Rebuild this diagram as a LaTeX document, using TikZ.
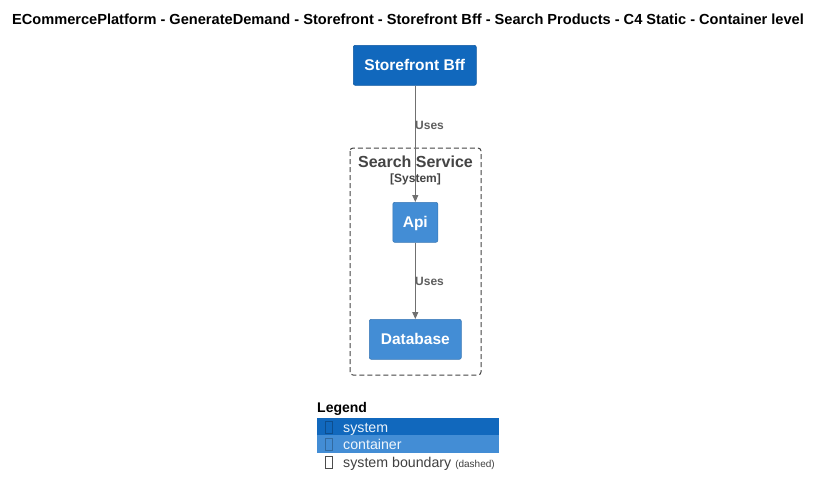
\documentclass[tikz,border=0pt]{standalone}
\usepackage{fontspec}
\setmainfont{Liberation Sans}
\usetikzlibrary{arrows.meta}
\definecolor{sysblue}{HTML}{1168BD}
\definecolor{contblue}{HTML}{438DD5}
\definecolor{linegray}{HTML}{707070}
\definecolor{bndgray}{HTML}{444444}
\begin{document}
\begin{tikzpicture}[x=1pt,y=-1pt,
  box/.style={draw=#1!85!black, line width=0.6pt, fill=#1, rounded corners=2pt, text=white, font=\fontsize{15.5}{18}\selectfont\bfseries, inner sep=0pt, text height=11pt, text depth=0pt, anchor=north west},
  rel/.style={draw=linegray, line width=1pt, -{Triangle[length=7pt,width=6pt]}},
  rlabel/.style={text=linegray!85!black, font=\fontsize{12}{14}\selectfont\bfseries, anchor=west, inner sep=0pt},
  legtext/.style={font=\fontsize{14.2}{16}\selectfont, anchor=base west, inner sep=0pt},
  tofu/.style={draw=#1, line width=0.7pt, minimum width=7pt, minimum height=12pt, inner sep=0pt}
]
\useasboundingbox (0,0) rectangle (823,496);
\fill[white] (0,0) rectangle (823,496);
% title
\node[font=\fontsize{14.6}{17}\selectfont\bfseries, inner sep=0pt] (title) at (408,19) {ECommercePlatform - GenerateDemand - Storefront - Storefront Bff - Search Products - C4 Static - Container level};
% boundary
\draw[bndgray, dash pattern=on 5pt off 3pt, line width=1pt, rounded corners=3pt] (350,148) rectangle (481,375);
\node[text=bndgray, font=\fontsize{16}{18}\selectfont\bfseries, inner sep=0pt] (bndname) at (415.5,161.5) {Search Service};
\node[text=bndgray, font=\fontsize{12}{14}\selectfont\bfseries, inner sep=0pt] (bndtype) at (415.5,179) {[System]};
% nodes
\node[box=sysblue, minimum width=123pt, minimum height=40pt] (bff) at (353,45) {Storefront Bff};
\node[box=contblue, minimum width=45pt, minimum height=40pt] (api) at (392.5,202) {Api};
\node[box=contblue, minimum width=92pt, minimum height=40pt] (db) at (369,319) {Database};
% relations
\draw[rel] (api.north |- bff.south) -- (api.north);
\node[rlabel] (l1) at (415,125) {Uses};
\draw[rel] (api.south) -- (api.south |- db.north);
\node[rlabel] (l2) at (415,281) {Uses};
% legend
\node[font=\fontsize{14}{16}\selectfont\bfseries, anchor=west, inner sep=0pt] (leg) at (317,409) {Legend};
\fill[sysblue] (317,417.5) rectangle (499,435);
\fill[contblue] (317,435) rectangle (499,452.5);
\node[tofu=sysblue!75!black] (t1) at (328.5,427) {};
\node[legtext, text=white!92!sysblue] (s1) at (343,432) {system};
\node[tofu=contblue!75!black] (t2) at (328.5,444.5) {};
\node[legtext, text=white!92!contblue] (s2) at (343,449.5) {container};
\node[tofu=black!70] (t3) at (328.5,462.5) {};
\node[legtext, text=black!75] (s3) at (343,467.5) {system boundary \fontsize{10}{11}\selectfont(dashed)};
\end{tikzpicture}
\end{document}
